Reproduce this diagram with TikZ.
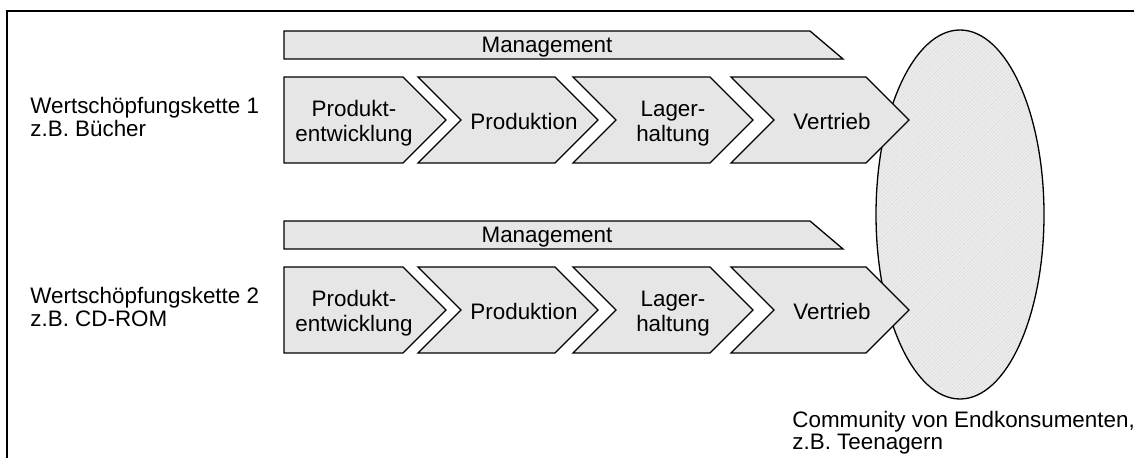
\documentclass[tikz,border=0pt]{standalone}
\usepackage{fontspec}
\setmainfont{Liberation Sans}
\usetikzlibrary{patterns.meta}
\definecolor{boxfill}{RGB}{230,230,230}
\definecolor{ellfill}{RGB}{238,238,238}
\begin{document}
\begin{tikzpicture}[x=0.5pt,y=-0.5pt,
  shapebox/.style={draw=black, line width=0.65pt, fill=boxfill, line join=miter},
  lbl/.style={font=\fontsize{11.2}{12.5}\selectfont, inner sep=0pt},
  ctext/.style={font=\fontsize{11.2}{12.5}\selectfont, align=center, inner sep=0pt}]
\useasboundingbox (0,0) rectangle (1134,458);
\fill[white] (0,0) rectangle (1134,458);
\draw[line width=1.3pt] (7,458) -- (7,11) -- (1134,11);
% community ellipse
\fill[ellfill] (960,214.5) ellipse [x radius=84, y radius=184.5];
\fill[pattern={Lines[angle=45,distance=1.2pt,line width=0.3pt]}, pattern color=gray!28]
  (960,214.5) ellipse [x radius=84, y radius=184.5];
\draw[line width=0.65pt] (960,214.5) ellipse [x radius=84, y radius=184.5];
\coordinate (community) at (960,214.5);
% two value chains
\foreach \r/\n in {0/1,190/2}{
  \draw[shapebox] (284,31+\r) -- (810,31+\r) -- (843,59+\r) -- (284,59+\r) -- cycle;
  \node[lbl] (mgmt\n) at (547,47+\r) {Management};
  \draw[shapebox] (284,77+\r) -- (403,77+\r) -- (446,120+\r) -- (403,163+\r) -- (284,163+\r) -- cycle;
  \draw[shapebox] (418,77+\r) -- (555,77+\r) -- (598,120+\r) -- (555,163+\r) -- (418,163+\r) -- (461,120+\r) -- cycle;
  \draw[shapebox] (573,77+\r) -- (710,77+\r) -- (753,120+\r) -- (710,163+\r) -- (573,163+\r) -- (616,120+\r) -- cycle;
  \draw[shapebox] (731,77+\r) -- (866,77+\r) -- (909,120+\r) -- (866,163+\r) -- (731,163+\r) -- (774,120+\r) -- cycle;
  \node[ctext] (pe\n) at (354,123.5+\r) {Produkt-\\entwicklung};
  \node[ctext] (pr\n) at (524,121+\r) {Produktion};
  \node[ctext] (lh\n) at (673,123.5+\r) {Lager-\\haltung};
  \node[ctext] (vt\n) at (832,121+\r) {Vertrieb};
}
\node[lbl, anchor=base west] (wk1a) at (30,114) {Wertschöpfungskette 1};
\node[lbl, anchor=base west] (wk1b) at (30,137) {z.B. Bücher};
\node[lbl, anchor=base west] (wk2a) at (30,304) {Wertschöpfungskette 2};
\node[lbl, anchor=base west] (wk2b) at (30,327) {z.B. CD-ROM};
\node[lbl, anchor=base west] (coma) at (792,428) {Community von Endkonsumenten,};
\node[lbl, anchor=base west] (comb) at (792,450) {z.B. Teenagern};
\end{tikzpicture}
\end{document}
